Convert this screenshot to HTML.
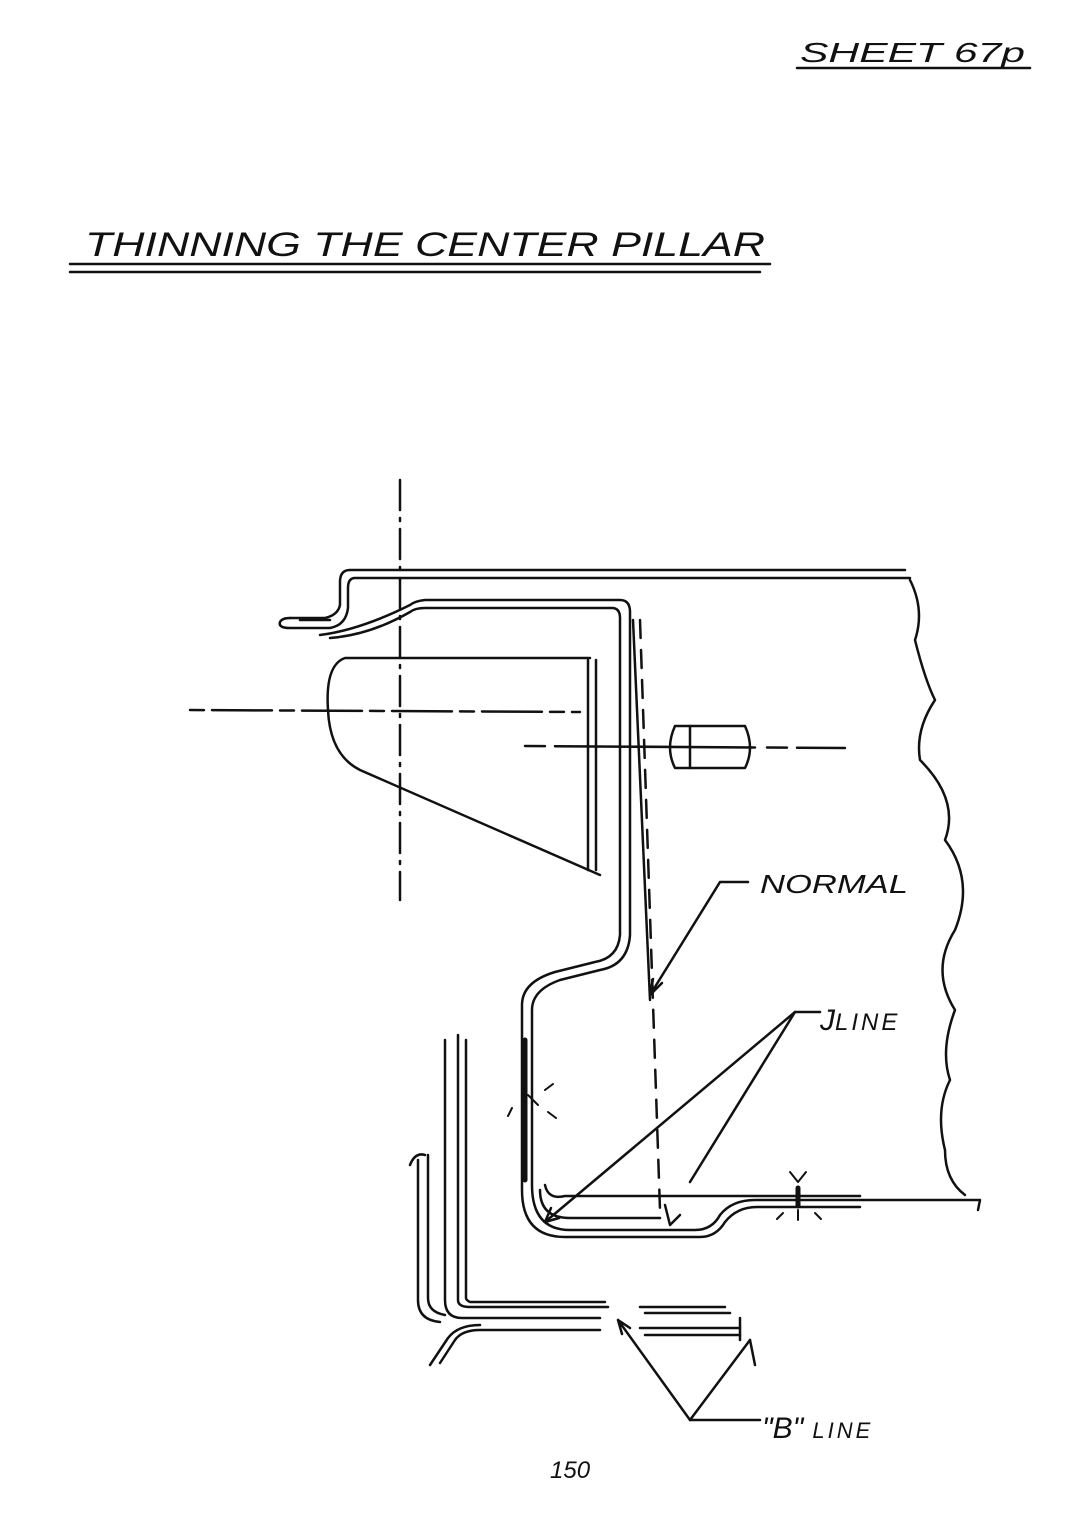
<!DOCTYPE html>
<html><head><meta charset="utf-8"><style>
html,body{margin:0;padding:0;background:#fff;}
svg{display:block}
text{font-family:"Liberation Sans",sans-serif;font-style:italic;fill:#111}
</style></head><body>
<svg width="1086" height="1517" viewBox="0 0 1086 1517" xmlns="http://www.w3.org/2000/svg">
<rect width="1086" height="1517" fill="#fff"/>
<g fill="none" stroke="#111" stroke-width="2.5" stroke-linecap="round" stroke-linejoin="round">
<line x1="797" y1="68" x2="1030" y2="68"/>
<line x1="70" y1="264" x2="770" y2="264"/>
<line x1="70" y1="272" x2="760" y2="272"/>
<line x1="400" y1="480" x2="400" y2="900" stroke-dasharray="30,8,3,8"/>
<path d="M905 570 H350 Q340 570 340 582 V605 Q338 615 325 618 H290"/>
<path d="M910 578 H355 Q348 578 348 588 V608 Q346 625 330 628 H290 Q278 628 280 622 Q282 618 290 618"/>
<path d="M300 620 H330"/>
<path d="M320 635 Q360 630 410 605 Q415 601 425 600 H620 Q630 600 630 612 V935 Q628 965 600 970 L560 980 Q532 990 532 1010 V1185 Q532 1230 570 1230 H695 Q712 1230 720 1215 Q732 1200 755 1200 H980 L978 1210"/>
<path d="M330 638 Q370 635 410 612 Q415 608 425 608 H612 Q620 608 620 618 V935 Q618 958 595 962 L555 972 Q522 982 522 1005 V1190 Q522 1237 565 1237 H700 Q716 1237 725 1222 Q737 1207 757 1207 H860"/>
<path d="M540 1190 Q540 1218 570 1218 H660"/>
<path d="M545 1185 Q548 1200 565 1196 H860"/>
<path d="M910 580 Q925 610 915 640 Q925 680 935 700 Q915 730 920 760 Q960 800 945 840 Q975 880 955 930 Q930 970 955 1010 Q940 1050 950 1080 Q935 1110 945 1150 Q945 1180 965 1195"/>
<path d="M590 658 H345 Q325 665 328 710 Q330 755 360 770 L600 875" />
<line x1="588" y1="660" x2="588" y2="870"/>
<line x1="596" y1="660" x2="596" y2="870"/>
<line x1="190" y1="710" x2="580" y2="712" stroke-dasharray="14,8,60,8"/>
<line x1="525" y1="746" x2="845" y2="748" stroke-dasharray="20,10,200,12"/>
<path d="M675 726 H745 Q755 748 745 768 H675 Q665 748 675 726 Z"/>
<line x1="690" y1="726" x2="690" y2="768"/>
<line x1="640" y1="620" x2="660" y2="1210" stroke-dasharray="18,12"/>
<line x1="633" y1="620" x2="650" y2="1000"/>
<path d="M748 882 H720 L650 995"/>
<path d="M650 995 l3 -16 m-3 16 l12 -12" />
<path d="M820 1012 H795 L545 1222"/>
<path d="M795 1012 L690 1182"/>
<path d="M545 1222 l6 -14 m-6 14 l14 -4"/>
<path d="M525 1040 V1180" stroke-width="5"/>
<path d="M528 1095 l10 10 M512 1108 l-4 8 M545 1090 l8 -6 M548 1112 l8 6" stroke-width="2"/>
<path d="M790 1172 l8 10 m0 0 l8 -10 M783 1213 l-6 6 M815 1213 l6 6 M798 1210 v10" stroke-width="2"/>
<path d="M798 1188 v18" stroke-width="5"/>
<path d="M665 1205 l5 20 l10 -10"/>
<path d="M445 1040 V1300 Q445 1318 462 1318 H600"/>
<path d="M458 1035 V1300 Q458 1307 470 1307 H608"/>
<path d="M466 1040 V1298 Q466 1300 470 1302 H605"/>
<path d="M418 1160 V1300 Q418 1320 440 1322"/>
<path d="M428 1155 V1298 Q428 1312 445 1315"/>
<path d="M410 1165 Q415 1152 425 1155"/>
<path d="M440 1363 L455 1340 Q462 1330 480 1330 H600"/>
<path d="M430 1365 L448 1338 Q458 1325 480 1325"/>
<path d="M640 1307 H725 M645 1313 H730 M640 1328 H740 M645 1335 H740" />
<line x1="740" y1="1318" x2="740" y2="1340"/>
<path d="M690 1420 L618 1320 M618 1320 l4 14 m-4 -14 l12 8"/>
<path d="M690 1420 L750 1340 M690 1420 H760"/>
<path d="M750 1340 L755 1365"/>
</g>
<text x="800" y="62" font-size="28" textLength="225" lengthAdjust="spacingAndGlyphs">SHEET 67p</text>
<text x="85" y="256" font-size="34" textLength="680" lengthAdjust="spacingAndGlyphs">THINNING THE CENTER PILLAR</text>
<text x="760" y="893" font-size="26" textLength="148" lengthAdjust="spacingAndGlyphs">NORMAL</text>
<text x="820" y="1030" font-size="30">J<tspan font-size="24" letter-spacing="3">LINE</tspan></text>
<text x="762" y="1438" font-size="30">"B"<tspan font-size="22" letter-spacing="3"> LINE</tspan></text>
<text x="550" y="1478" font-size="24">150</text>
</svg>
</body></html>
